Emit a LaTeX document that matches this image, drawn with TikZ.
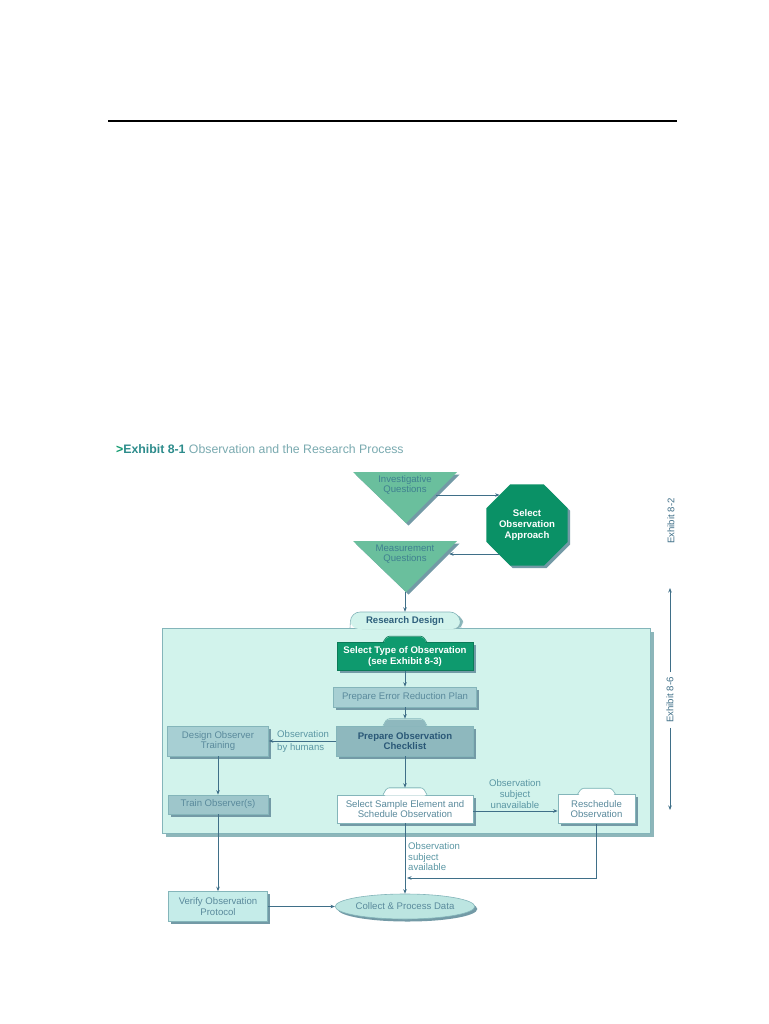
\documentclass[tikz,border=0pt]{standalone}
\usepackage{fontspec}
\setmainfont{Liberation Sans}
\usetikzlibrary{shapes.geometric,arrows.meta,calc,shadows}
\definecolor{LineBlue}{HTML}{3F6F88}
\definecolor{TriGreen}{HTML}{6ABF9D}
\definecolor{TriText}{HTML}{3F8090}
\definecolor{DeepGreen}{HTML}{0A9166}
\definecolor{SelGreen}{HTML}{0E9A6E}
\definecolor{MintFill}{HTML}{D2F3EC}
\definecolor{BoxEdge}{HTML}{84B5BA}
\definecolor{PlanFill}{HTML}{A7CFD3}
\definecolor{PlanText}{HTML}{5A8A9C}
\definecolor{CheckFill}{HTML}{8EB8BE}
\definecolor{CheckText}{HTML}{2A5877}
\definecolor{TrainFill}{HTML}{9EC6CB}
\definecolor{VerifyFill}{HTML}{C5ECE9}
\definecolor{EllFill}{HTML}{BCE5E1}
\definecolor{LabelText}{HTML}{5B97A4}
\definecolor{ShadowGray}{HTML}{739AA6}
\definecolor{PanelShadow}{HTML}{8DB6BA}
\definecolor{TitleTeal}{HTML}{2D8C8C}
\definecolor{TitleGray}{HTML}{7AAAB0}
\newcommand{\bxfont}{\fontsize{9.6}{10.6}\selectfont}
% tab on top of a box: node, half width, height, fill, edge
\newcommand{\tabon}[5]{%
  \fill[#4,rounded corners=2.5pt] ($(#1.north)+(-#2,0.8)$) -- ++(4,-#3) -- ++({2*#2-8},0) -- ++(4,#3) -- cycle;
  \draw[#5,line width=0.6pt,rounded corners=2.5pt] ($(#1.north)+(-#2,0)$) -- ++(4,-#3) -- ++({2*#2-8},0) -- ++(4,#3);}
\tikzset{
  shd/.style={drop shadow={shadow xshift=2.5pt,shadow yshift=-2.5pt,fill=ShadowGray,opacity=1}},
  BX/.style={rectangle,draw=BoxEdge,line width=0.6pt,align=center,
             inner sep=1pt,font=\bxfont,shd},
  nSel/.style={BX,fill=SelGreen,draw=SelGreen!80!black,text=white,font=\bxfont\bfseries},
  nPlan/.style={BX,fill=PlanFill,text=PlanText},
  nChk/.style={BX,fill=CheckFill,text=CheckText,font=\bxfont\bfseries},
  nTrn/.style={BX,fill=TrainFill,text=PlanText},
  nWht/.style={BX,fill=white,text=PlanText},
  nVer/.style={BX,fill=VerifyFill,text=PlanText},
  nEll/.style={ellipse,draw=BoxEdge,line width=0.6pt,fill=EllFill,text=PlanText,
               inner sep=0pt,font=\bxfont,shd},
  TRshape/.style={fill=TriGreen,shd},
  TRtext/.style={align=center,text=TriText,font=\bxfont,inner sep=0pt},
  OCT/.style={regular polygon,regular polygon sides=8,minimum size=88pt,
              fill=DeepGreen,text=white,align=center,inner sep=0pt,
              font=\bxfont\bfseries,shd},
  LB/.style={align=center,text=LabelText,font=\fontsize{9.6}{11}\selectfont,inner sep=0pt},
  EX/.style={text=LineBlue,font=\bxfont,inner sep=5pt},
  arr/.style={-{Stealth[length=4.5pt,width=3.5pt]},LineBlue,line width=0.8pt}
}
\begin{document}
\begin{tikzpicture}[x=1pt,y=-1pt]
  \useasboundingbox (0,0) rectangle (768,1024);
  \fill[white] (0,0) rectangle (768,1024);
  \draw[line width=2pt] (108,121) -- (677,121);
  \node[anchor=west,inner sep=0pt,font=\fontsize{12.3}{14}\selectfont] (ttl) at (116,449)
    {\textcolor{SelGreen}{\textbf{>}}\textcolor{TitleTeal}{\textbf{Exhibit 8-1}}\ \textcolor{TitleGray}{Observation and the Research Process}};

  % questions and approach
  \path[TRshape] (353,472) -- (457,472) -- (406,523) -- cycle;
  \node[TRtext] (iq) at (405,485) {Investigative\\Questions};
  \path[TRshape] (353,541) -- (457,541) -- (406,592) -- cycle;
  \node[TRtext] (mq) at (405,554) {Measurement\\Questions};
  \node[OCT] (oa) at (527,525) {Select\\Observation\\Approach};
  \coordinate (iqR) at (436,495);
  \coordinate (mqR) at (449,554);
  \coordinate (mqB) at (405,592);

  % research design panel
  \node[rectangle,draw=BoxEdge,line width=0.6pt,fill=MintFill,minimum width=488pt,minimum height=205pt,
        drop shadow={shadow xshift=3.5pt,shadow yshift=-3.5pt,fill=PanelShadow,opacity=1}] (rd) at (406,730.5) {};
  \fill[PanelShadow,rounded corners=9pt] (353,629) -- (354,614) -- (462,614) -- (464,629) -- cycle;
  \fill[MintFill,rounded corners=9pt] (350,629) -- (351,612) -- (459,612) -- (461,629) -- cycle;
  \draw[BoxEdge,line width=0.6pt,rounded corners=9pt] (350,628) -- (351,612) -- (459,612) -- (461,628);
  \node[font=\bxfont\bfseries,text=CheckText!80!TriText,minimum height=18pt,inner sep=0pt] (rdtab) at (405,621) {Research Design};

  \node[nSel,minimum width=136pt,minimum height=28pt] (st) at (405,656.5) {Select Type of Observation\\(see Exhibit 8-3)};
  \tabon{st}{22}{6}{SelGreen}{SelGreen!80!black}
  \node[nPlan,minimum width=143pt,minimum height=20pt] (pe) at (405,697) {Prepare Error Reduction Plan};
  \node[nChk,minimum width=137pt,minimum height=30pt] (ck) at (405,741) {Prepare Observation\\Checklist};
  \tabon{ck}{22}{7}{CheckFill}{BoxEdge}
  \node[nPlan,minimum width=101pt,minimum height=30pt] (dot) at (218,741) {Design Observer\\Training};
  \node[nTrn,minimum width=100pt,minimum height=19pt] (to) at (218,804.5) {Train Observer(s)};
  \node[nWht,minimum width=136pt,minimum height=28pt] (ss) at (405,809) {Select Sample Element and\\Schedule Observation};
  \tabon{ss}{22}{7}{white}{BoxEdge}
  \node[nWht,minimum width=77pt,minimum height=29pt] (rs) at (596.5,809) {Reschedule\\Observation};
  \tabon{rs}{19}{6}{white}{BoxEdge}

  % outside the panel
  \node[nVer,minimum width=99pt,minimum height=30pt] (vf) at (218,906.5) {Verify Observation\\Protocol};
  \node[nEll,minimum width=120pt,minimum height=25pt] (cp) at (405,906.5) {Collect \& Process Data};
  \coordinate (mrg) at (407,878);

  % labels
  \node[LB,anchor=west,align=left,font=\fontsize{9.6}{12.5}\selectfont] (lbh) at (277,741.5) {Observation\\by humans};
  \node[LB] (lbu) at (515,794.5) {Observation\\subject\\unavailable};
  \node[LB,anchor=west,align=left,font=\fontsize{9.6}{10.5}\selectfont] (lba) at (408,857) {Observation\\subject\\available};

  % exhibit references
  \node[EX,rotate=90] (ex2) at (671,521) {Exhibit 8-2};
  \node[EX,rotate=90] (ex6) at (670,700) {Exhibit 8-6};
  \coordinate (ex6top) at (670,588);
  \coordinate (ex6bot) at (670,810);

  \draw[arr] (iqR) -- (iqR -| oa.132);
  \draw[arr] (mqR -| oa.226) -- (mqR);
  \draw[arr] (mqB) -- (rdtab.north);
  \draw[arr] (st) -- (pe);
  \draw[arr] (pe) -- ($(ck.north)+(0,-7)$);
  \draw[arr] (ck) -- (dot);
  \draw[arr] (dot) -- (to);
  \draw[arr] (to) -- (vf);
  \draw[arr] (ck) -- ($(ss.north)+(0,-7)$);
  \draw[arr] ($(ss.east)+(0,2)$) -- ($(rs.west)+(0,2)$);
  \draw[arr] (ss) -- (cp);
  \draw[arr] (rs) |- (mrg);
  \draw[arr] (vf) -- (cp);
  \draw[arr] (ex6.east) -- (ex6top);
  \draw[arr] (ex6.west) -- (ex6bot);
\end{tikzpicture}
\end{document}
